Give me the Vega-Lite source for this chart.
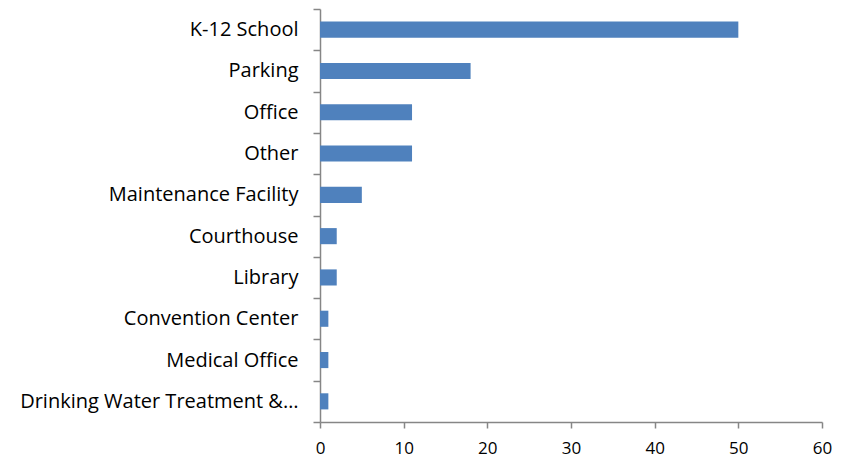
{
  "$schema": "https://vega.github.io/schema/vega-lite/v6.json",
  "autosize": "none",
  "padding": {"left": 320, "top": 9, "right": 26, "bottom": 39},
  "width": 502,
  "height": 413,
  "background": "white",
  "data": {"values": [
    {"type": "K-12 School", "count": 50},
    {"type": "Parking", "count": 18},
    {"type": "Office", "count": 11},
    {"type": "Other", "count": 11},
    {"type": "Maintenance Facility", "count": 5},
    {"type": "Courthouse", "count": 2},
    {"type": "Library", "count": 2},
    {"type": "Convention Center", "count": 1},
    {"type": "Medical Office", "count": 1},
    {"type": "Drinking Water Treatment &…", "count": 1}
  ]},
  "config": {"view": {"stroke": null}, "font": "Open Sans"},
  "mark": {"type": "bar", "color": "#4F81BD", "height": {"band": 0.39}},
  "encoding": {
    "y": {"field": "type", "type": "nominal", "sort": null, "title": null,
      "scale": {"paddingInner": 0, "paddingOuter": 0},
      "axis": {"tickBand": "extent", "domainColor": "#868686", "tickColor": "#868686", "tickSize": 7, "labelPadding": 15, "labelFontSize": 20, "labelColor": "#000000", "labelLimit": 400, "domainWidth": 1.5, "tickWidth": 1.5}},
    "x": {"field": "count", "type": "quantitative", "title": null,
      "scale": {"domain": [0, 60], "nice": false},
      "axis": {"values": [0, 10, 20, 30, 40, 50, 60], "grid": false, "domainColor": "#868686", "tickColor": "#868686", "tickSize": 6, "labelPadding": 12, "labelFontSize": 17, "labelColor": "#000000", "domainWidth": 1.5, "tickWidth": 1.5, "labelFlush": false}}
  }
}
